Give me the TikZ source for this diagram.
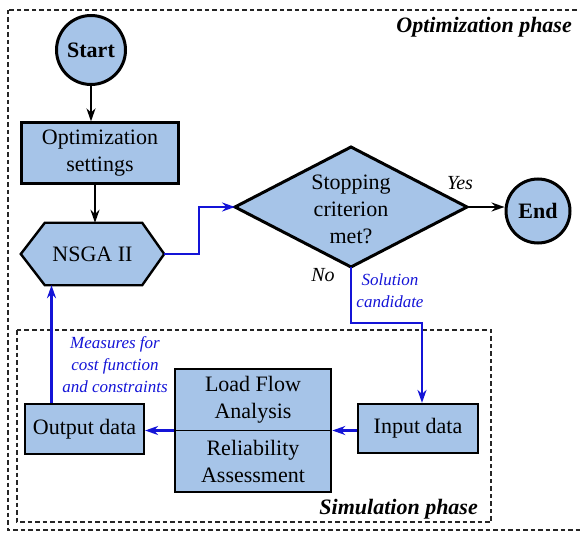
\documentclass[tikz,border=0pt]{standalone}
\usepackage{fontspec}
\setmainfont{Liberation Serif}
\usetikzlibrary{arrows.meta,calc,backgrounds}
\definecolor{boxfill}{RGB}{166,196,232}
\definecolor{flowblue}{RGB}{20,20,215}
\begin{document}
\begin{tikzpicture}[x=1pt,y=-1pt,
  box/.style={draw=black,line width=2.2pt,fill=boxfill,align=center,inner sep=0pt,font=\fontsize{22}{27}\selectfont},
  txt/.style={align=center,inner sep=0pt,font=\fontsize{22}{27}\selectfont},
  term/.style={circle,draw=black,line width=3pt,fill=boxfill,inner sep=0pt,font=\bfseries\fontsize{22}{27}\selectfont},
  shp/.style={draw=black,line width=2.4pt,fill=boxfill,line join=miter},
  blk/.style={-{Stealth[length=13pt,width=9pt]},line width=1.9pt,black},
  blu/.style={-{Stealth[length=13pt,width=9pt]},line width=2.2pt,flowblue},
  lbl/.style={font=\itshape\fontsize{17}{22}\selectfont,text=flowblue,align=center,inner sep=0pt},
  yn/.style={font=\itshape\fontsize{20}{24}\selectfont,inner sep=0pt},
  phase/.style={font=\bfseries\itshape\fontsize{22}{26}\selectfont,inner sep=0pt},
  frame/.style={draw=black!85,line width=1.3pt,dash pattern=on 4.5pt off 3pt}]
\useasboundingbox (0,0) rectangle (580,534);
\draw[frame] (8,10) rectangle (586,530);
\draw[frame] (17,330) rectangle (491,522);
\node[phase,anchor=east] (ophase) at (572,27) {Optimization phase};
\node[phase,anchor=east] (sphase) at (478,509) {Simulation phase};

\node[term,minimum size=69pt] (start) at (91,50) {Start};
\node[box,minimum width=157pt,minimum height=61pt] (set) at (100,153) {Optimization\\settings};
\node[txt,minimum width=143pt,minimum height=62pt] (nsga) at (92.5,254) {NSGA II};
\coordinate (dc) at (351,207);
\coordinate (dL) at (235,207);
\coordinate (dR) at (467,207);
\coordinate (dT) at (351,147);
\coordinate (dB) at (351,267);
\node[txt] (dtext) at (351,209) {Stopping\\criterion\\met?};
\node[term,minimum size=64pt] (end) at (538,211) {End};

\node[box,minimum width=119pt,minimum height=50pt] (out) at (84.5,429) {Output data};
\node[box,line width=2.6pt,minimum width=156pt,minimum height=123pt] (mid) at (253,430.5) {};
\node[txt] (lfa) at (253,400) {Load Flow\\Analysis};
\node[txt] (rel) at (253,461) {Reliability\\Assessment};
\node[box,minimum width=120pt,minimum height=49pt] (in) at (418,428.5) {Input data};

\begin{scope}[on background layer]
\draw[shp] (nsga.west) -- ($(nsga.north west)+(24,0)$) -- ($(nsga.north east)+(-22,0)$) -- (nsga.east) -- ($(nsga.south east)+(-22,0)$) -- ($(nsga.south west)+(24,0)$) -- cycle;
\draw[shp,line width=3pt] (dL) -- (dT) -- (dR) -- (dB) -- cycle;
\end{scope}
\draw[line width=1.8pt] (mid.west) -- (mid.east);

\draw[blk] (start.south) -- (start.south |- set.north);
\draw[blk] ([xshift=-5pt]set.south) -- ([xshift=-5pt]set.south |- nsga.north);
\draw[blu] (nsga.east) -- ++(35,0) |- (dL);
\draw[blk] (dR) -- (dR -| end.west);
\draw[blu] (dB) -- ++(0,56) -| ([xshift=4pt]in.north);
\draw[blu] (in.west |- mid.east) -- (mid.east);
\draw[blu] (mid.west) -- (mid.west -| out.east);
\draw[blu] ([xshift=-33pt]out.north) -- ([xshift=-33pt]out.north |- nsga.south);

\node[yn] (yes) at (460,183) {Yes};
\node[yn] (no) at (323,275) {No};
\node[lbl] (sol) at (390,291) {Solution\\candidate};
\node[lbl] (meas) at (115,365) {Measures for\\cost function\\and constraints};
\end{tikzpicture}
\end{document}
